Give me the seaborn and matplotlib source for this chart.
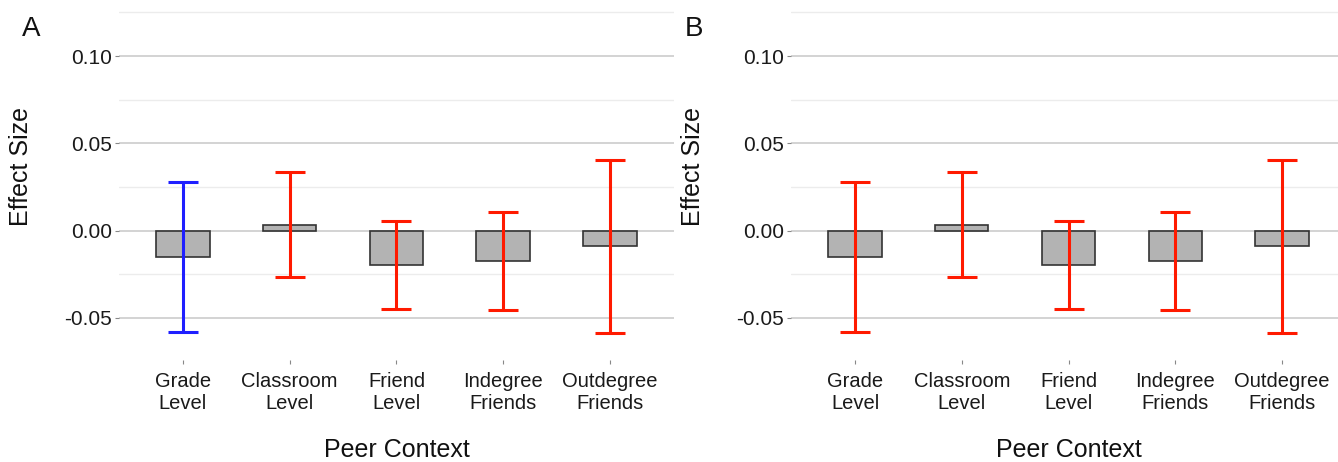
import numpy as np
import pandas as pd
import matplotlib
matplotlib.use('Agg')
import matplotlib.pyplot as plt
import matplotlib.ticker as mtick
import seaborn as sns

# values (same estimates in both panels)
contexts = ['Grade\nLevel', 'Classroom\nLevel', 'Friend\nLevel', 'Indegree\nFriends', 'Outdegree\nFriends']
effect = [-0.0153, 0.0030, -0.0198, -0.0177, -0.0090]
ci_low = [-0.0579, -0.0267, -0.0451, -0.0455, -0.0585]
ci_high = [0.0276, 0.0333, 0.0057, 0.0105, 0.0406]
colors_a = ['#1f1fff', '#ff1a00', '#ff1a00', '#ff1a00', '#ff1a00']
colors_b = ['#ff1a00', '#ff1a00', '#ff1a00', '#ff1a00', '#ff1a00']

df = pd.DataFrame({'Context': contexts, 'Effect': effect,
                   'Low': ci_low, 'High': ci_high})

sns.set_theme(style='white')
plt.rcParams['font.family'] = ['Liberation Sans', 'DejaVu Sans']

fig = plt.figure(figsize=(13.38, 4.62), dpi=100)

def draw_panel(rect, err_colors, letter, letter_x):
    ax = fig.add_axes(rect)
    sns.barplot(data=df, x='Context', y='Effect', color='#b3b3b3',
                edgecolor='#333333', linewidth=1.2, width=0.5,
                errorbar=None, saturation=1, ax=ax, zorder=2)
    xs = np.arange(len(df))
    for i, c in zip(xs, err_colors):
        ax.errorbar(i, df['Effect'][i],
                    yerr=[[df['Effect'][i] - df['Low'][i]], [df['High'][i] - df['Effect'][i]]],
                    fmt='none', ecolor=c, elinewidth=2.2, capsize=11, capthick=2.2, zorder=3)
    ax.set_xlim(-0.6, len(df) - 0.4)
    ax.set_ylim(-0.0742, 0.1293)
    ax.set_yticks([-0.05, 0.0, 0.05, 0.10])
    ax.set_yticks([-0.025, 0.025, 0.075, 0.125], minor=True)
    ax.yaxis.set_major_formatter(mtick.FuncFormatter(lambda v, p: f'{v:.2f}'))
    ax.grid(axis='y', which='major', color='#c8c8c8', linewidth=1.1, zorder=0)
    ax.grid(axis='y', which='minor', color='#ececec', linewidth=1.0, zorder=0)
    ax.set_axisbelow(True)
    for s in ax.spines.values():
        s.set_visible(False)
    ax.tick_params(axis='y', which='major', left=True, length=3, width=0.8,
                   color='#888888', labelsize=15, labelcolor='#1a1a1a', pad=2)
    ax.tick_params(axis='y', which='minor', left=False)
    ax.tick_params(axis='x', bottom=True, length=3, width=0.8, color='#888888',
                   labelsize=14.5, labelcolor='#1a1a1a', pad=6)
    for t in ax.get_xticklabels():
        t.set_linespacing(1.15)
    ax.set_ylabel('Effect Size', fontsize=18, color='#111111')
    ax.yaxis.set_label_coords(-0.155, 0.546)
    ax.set_xlabel('Peer Context', fontsize=18, color='#111111')
    ax.xaxis.set_label_coords(0.5, -0.253)
    ax.xaxis.label.set_va('center')
    fig.text(letter_x, 0.937, letter, fontsize=20, ha='center', va='center', color='#111111')
    return ax

draw_panel([0.0889, 0.2208, 0.4148, 0.7684], colors_a, 'A', 0.0235)
draw_panel([0.5912, 0.2208, 0.4148, 0.7684], colors_b, 'B', 0.5185)

fig.savefig('out.png', dpi=100)
